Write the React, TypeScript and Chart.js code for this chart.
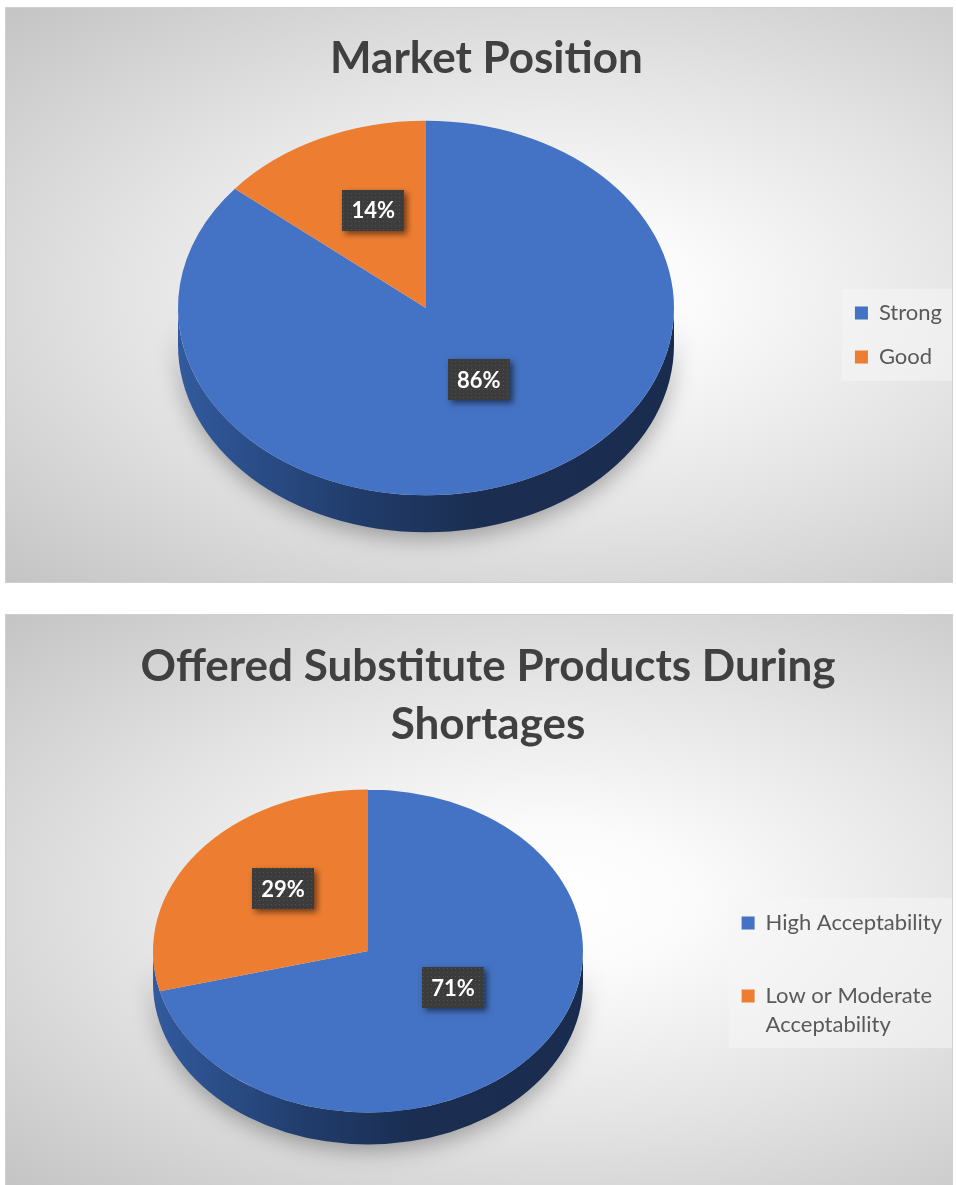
import React, { useEffect, useRef } from 'react';
import { Chart, registerables } from 'chart.js';

Chart.register(...registerables);

// ---------------- data ----------------
const marketTitle = 'Market Position';
const marketLabels = ['Strong', 'Good'];
const marketValues = [86, 14];

const substituteTitle = ['Offered Substitute Products During', 'Shortages'];
const substituteLabels: (string | string[])[] = ['High Acceptability', ['Low or Moderate', 'Acceptability']];
const substituteValues = [71, 29];

const sliceColors = ['#4472C4', '#ED7D31'];

const FONT = "Lato, 'Open Sans', sans-serif";

function makePattern(ctx: CanvasRenderingContext2D) {
  const c = document.createElement('canvas');
  c.width = 4;
  c.height = 4;
  const p = c.getContext('2d')!;
  p.fillStyle = '#3c3c3c';
  p.fillRect(0, 0, 4, 4);
  p.fillStyle = '#525252';
  p.fillRect(1, 1, 1, 1);
  return ctx.createPattern(c, 'repeat');
}

const pie3dPlugin = {
  id: 'pie3d',
  beforeDraw(chart: any, _args: any, opts: any) {
    const lg = chart.legend;
    const hb = lg && lg.legendHitBoxes;
    if (!hb || !hb.length) return;
    const ctx = chart.ctx;
    const x0 = hb[0].left - opts.legendBoxPadLeft;
    const x1 = Math.max(...hb.map((h: any) => h.left + h.width)) + opts.legendBoxPadRight;
    const y0 = Math.min(...hb.map((h: any) => h.top)) - opts.legendBoxPadTop;
    const y1 = Math.max(...hb.map((h: any) => h.top + h.height)) + opts.legendBoxPadBottom;
    ctx.save();
    ctx.fillStyle = opts.legendBg;
    ctx.fillRect(x0, y0, x1 - x0, y1 - y0);
    ctx.restore();
  },
  beforeDatasetsDraw(chart: any, _args: any, opts: any) {
    const meta = chart.getDatasetMeta(0);
    const arc = meta.data[0];
    if (!arc) return;
    const { x: cx, y: cy, outerRadius: r } = arc.getProps(['x', 'y', 'outerRadius'], true);
    const k = opts.tilt;
    const d = opts.depth;
    const ctx: CanvasRenderingContext2D = chart.ctx;
    ctx.save();
    ctx.translate(opts.centerX, opts.centerY);
    ctx.scale(1, k);
    ctx.translate(-cx, -cy);
    // side wall of the disc
    ctx.save();
    ctx.shadowColor = 'rgba(0,0,0,0.32)';
    ctx.shadowBlur = 22;
    ctx.shadowOffsetY = 6;
    const g = ctx.createLinearGradient(cx - r, 0, cx + r, 0);
    g.addColorStop(0, '#325a9e');
    g.addColorStop(0.35, '#213d6c');
    g.addColorStop(0.6, '#1b2e52');
    g.addColorStop(1, '#1a2c4e');
    ctx.fillStyle = g;
    ctx.beginPath();
    ctx.arc(cx, cy, r, 0, Math.PI, false);
    ctx.arc(cx, cy + d / k, r, Math.PI, 0, true);
    ctx.closePath();
    ctx.fill();
    ctx.restore();
  },
  afterDatasetsDraw(chart: any, _args: any, opts: any) {
    const ctx: CanvasRenderingContext2D = chart.ctx;
    ctx.restore();
    const meta = chart.getDatasetMeta(0);
    const arc = meta.data[0];
    if (!arc) return;
    const { x: cx, y: cy } = arc.getProps(['x', 'y'], true);
    const k = opts.tilt;
    const values: number[] = chart.data.datasets[0].data;
    const total = values.reduce((a, b) => a + b, 0);
    const pattern = makePattern(ctx);
    meta.data.forEach((el: any, i: number) => {
      const p = el.getCenterPoint(true);
      const px = opts.centerX + (p.x - cx);
      const py = opts.centerY + (p.y - cy) * k + opts.labelOffsetY;
      const text = Math.round((values[i] / total) * 100) + '%';
      ctx.save();
      ctx.font = `bold 22px ${FONT}`;
      const tw = ctx.measureText(text).width;
      const w = tw + 18;
      const h = 41;
      ctx.shadowColor = 'rgba(0,0,0,0.55)';
      ctx.shadowBlur = 6;
      ctx.shadowOffsetX = 3;
      ctx.shadowOffsetY = 3;
      ctx.fillStyle = pattern || '#3c3c3c';
      ctx.fillRect(Math.round(px - w / 2), Math.round(py - h / 2), Math.round(w), h);
      ctx.shadowColor = 'transparent';
      ctx.fillStyle = '#ffffff';
      ctx.textAlign = 'center';
      ctx.textBaseline = 'middle';
      ctx.fillText(text, px, py + 1);
      ctx.restore();
    });
  },
};

interface CardProps {
  title: string | string[];
  labels: (string | string[])[];
  values: number[];
  width: number;
  height: number;
  titleLineHeight: number;
  titlePadTop: number;
  titlePadBottom: number;
  legendPadding: number;
  legendLineHeight: number;
  layoutLeft: number;
  layoutRight: number;
  radius: number;
  geo: any;
}

function PieCard(props: CardProps) {
  const ref = useRef<HTMLCanvasElement>(null);
  useEffect(() => {
    if (!ref.current) return;
    const chart = new Chart(ref.current, {
      type: 'pie',
      data: {
        labels: props.labels as any,
        datasets: [
          {
            data: props.values,
            backgroundColor: sliceColors,
            borderColor: sliceColors,
            borderWidth: 0,
            radius: props.radius,
            clip: false as any,
          } as any,
        ],
      },
      plugins: [pie3dPlugin as any],
      options: {
        responsive: false,
        animation: false,
        events: [],
        layout: { padding: { left: props.layoutLeft, right: props.layoutRight, top: 0, bottom: 0 } },
        plugins: {
          title: {
            display: true,
            text: props.title,
            color: '#404040',
            font: { family: FONT, size: 44, weight: 'bold', lineHeight: props.titleLineHeight },
            padding: { top: props.titlePadTop, bottom: props.titlePadBottom },
          },
          legend: {
            display: true,
            position: 'right',
            align: 'center',
            fullSize: false,
            labels: {
              color: '#595959',
              boxWidth: 13,
              boxHeight: 13,
              padding: props.legendPadding,
              font: { family: FONT, size: 22, lineHeight: props.legendLineHeight },
            },
          },
          tooltip: { enabled: false },
          pie3d: props.geo,
        } as any,
      },
    });
    return () => chart.destroy();
  }, []);
  return <canvas ref={ref} width={props.width} height={props.height} style={{ display: 'block' }} />;
}

const panelBg =
  'radial-gradient(ellipse farthest-corner at 58% 50%, #ffffff 0%, #fbfbfb 18%, #e4e4e4 55%, #c4c4c4 100%)';

export default function App() {
  useEffect(() => {
    document.body.style.overflow = 'hidden';
  }, []);
  return (
    <div>
      <div
        style={{
          position: 'absolute',
          left: 5,
          top: 7,
          width: 948,
          height: 576,
          boxSizing: 'border-box',
          border: '1px solid #d0d0d0',
          background: panelBg,
        }}
      >
        <PieCard
          title={marketTitle}
          labels={marketLabels}
          values={marketValues}
          width={946}
          height={574}
          titleLineHeight={1.2}
          titlePadTop={24}
          titlePadBottom={3}
          legendPadding={22}
          legendLineHeight={1.32}
          layoutLeft={15}
          layoutRight={0}
          radius={248}
          geo={{
            tilt: 0.755,
            depth: 37,
            centerX: 420,
            centerY: 300,
            labelOffsetY: -13,
            legendBg: 'rgba(245,245,245,0.55)',
            legendBoxPadLeft: 13,
            legendBoxPadRight: 10,
            legendBoxPadTop: 13,
            legendBoxPadBottom: 13,
          }}
        />
      </div>
      <div
        style={{
          position: 'absolute',
          left: 5,
          top: 614,
          width: 948,
          height: 571,
          boxSizing: 'border-box',
          borderTop: '1px solid #d0d0d0',
          borderLeft: '1px solid #d0d0d0',
          borderRight: '1px solid #d0d0d0',
          background: panelBg,
          overflow: 'hidden',
        }}
      >
        <PieCard
          title={substituteTitle}
          labels={substituteLabels}
          values={substituteValues}
          width={946}
          height={570}
          titleLineHeight={1.32}
          titlePadTop={23}
          titlePadBottom={16}
          legendPadding={51}
          legendLineHeight={1.32}
          layoutLeft={18}
          layoutRight={0}
          radius={215}
          geo={{
            tilt: 0.751,
            depth: 32,
            centerX: 362,
            centerY: 336,
            labelOffsetY: -13,
            legendBg: 'rgba(245,245,245,0.55)',
            legendBoxPadLeft: 13,
            legendBoxPadRight: 10,
            legendBoxPadTop: 14,
            legendBoxPadBottom: 5,
          }}
        />
      </div>
    </div>
  );
}
